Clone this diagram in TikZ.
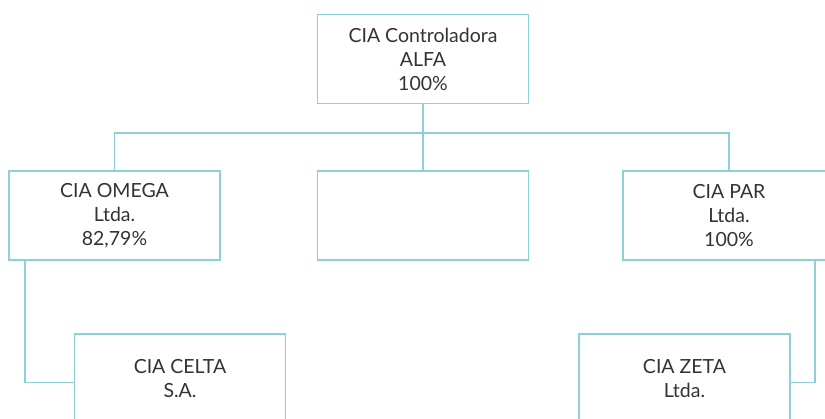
\documentclass[tikz,border=0pt]{standalone}
\usepackage{fontspec}
\setmainfont{Lato}
\usetikzlibrary{positioning}
\definecolor{linecyan}{RGB}{140,208,218}
\definecolor{textgray}{RGB}{51,51,51}
\tikzset{
    cia/.style={draw=linecyan, line width=1.8pt, rectangle, minimum width=211pt, minimum height=89pt,
        inner sep=0pt, align=center, text=textgray, font=\fontsize{19.5}{24}\selectfont},
    link/.style={draw=linecyan, line width=1.8pt}
}

\begin{document}
\begin{tikzpicture}[x=1pt, y=-1pt]
    \useasboundingbox (0,0) rectangle (825,419);
    \clip (0,0) rectangle (825,419);
    \node[cia] (alfa) at (423,59) {CIA Controladora\\ALFA\\100\%};
    \node[cia] (omega) at (114.5,215.5) {CIA OMEGA\\Ltda.\\82,79\%};
    \node[cia] (meio) at (423,215.5) {};
    \node[cia, minimum width=212pt] (par) at (729,215.5) {CIA PAR\\Ltda.\\100\%};
    \node[cia] (celta) at (180,378.5) {CIA CELTA\\S.A.};
    \node[cia] (zeta) at (684.5,378.5) {CIA ZETA\\Ltda.};
    \coordinate (barra) at (0,133);
    \draw[link] (alfa.south) -- (meio.north);
    \draw[link] (omega.north) -- (omega.north |- barra) -- (par.north |- barra) -- (par.north);
    \draw[link] ([xshift=-89.5pt]omega.south) |- ([yshift=-4pt]celta.west);
    \draw[link] ([xshift=86pt]par.south) |- ([yshift=-4pt]zeta.east);
\end{tikzpicture}
\end{document}
